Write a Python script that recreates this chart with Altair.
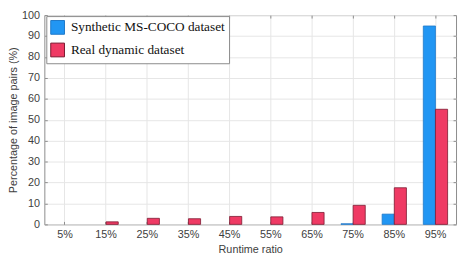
import altair as alt
import pandas as pd

ratios = ["5%", "15%", "25%", "35%", "45%", "55%", "65%", "75%", "85%", "95%"]
synthetic = [0, 0, 0, 0, 0, 0, 0, 0.3, 4.9, 94.8]
real = [0, 1.2, 2.9, 2.7, 3.8, 3.6, 5.7, 9.1, 17.5, 55.0]
series = ["Synthetic MS-COCO dataset", "Real dynamic dataset"]
y_ticks = list(range(0, 101, 10))

rows = []
for r, s, d in zip(ratios, synthetic, real):
    rows.append({"ratio": r, "dataset": series[0], "value": s})
    rows.append({"ratio": r, "dataset": series[1], "value": d})
df = pd.DataFrame(rows)

AX_COL = "#8c8c8c"
LAB_COL = "#404040"
GRID_COL = "#e6e6e6"

xscale = alt.Scale(domain=ratios, paddingInner=0.41, paddingOuter=0.205)
yscale = alt.Scale(domain=[0, 100], nice=False)

legend = alt.Legend(
    title=None, orient="none", legendX=2, legendY=1,
    fillColor="white", strokeColor="#8a8a8a", padding=4, rowPadding=4,
    symbolType="square", symbolSize=196, symbolStrokeWidth=1,
    labelFont="Liberation Serif", labelFontSize=13.5, labelColor="#111111",
    labelOffset=6, labelLimit=400,
)

bars = alt.Chart(df).transform_filter("datum.value > 0").mark_bar(strokeWidth=0.8).encode(
    x=alt.X("ratio:N", sort=ratios, scale=xscale,
            axis=alt.Axis(title="Runtime ratio", labelAngle=0, grid=True, gridColor=GRID_COL,
                          domain=False, tickSize=3, offset=-3, tickColor=AX_COL,
                          labelPadding=4, titlePadding=5)),
    xOffset=alt.XOffset("dataset:N", sort=series,
                        scale=alt.Scale(domain=series, paddingInner=0, paddingOuter=0)),
    y=alt.Y("value:Q", scale=yscale,
            axis=alt.Axis(title="Percentage of image pairs (%)", values=y_ticks, grid=True,
                          gridColor=GRID_COL, domain=False, tickSize=3, offset=-3,
                          tickColor=AX_COL, labelPadding=5, titlePadding=3)),
    color=alt.Color("dataset:N", sort=series,
                    scale=alt.Scale(domain=series, range=["#2196f3", "#ef3a64"]), legend=legend),
    stroke=alt.Stroke("dataset:N", sort=series,
                      scale=alt.Scale(domain=series, range=["#1f78c8", "#7a1a30"]), legend=legend),
)

frame = alt.Chart(df).mark_point(opacity=0).encode(
    x=alt.X("ratio:N", sort=ratios, scale=xscale,
            axis=alt.Axis(orient="top", labels=False, title=None, grid=False, domain=False,
                          tickSize=3, offset=-3, tickColor=AX_COL)),
    y=alt.Y("value:Q", scale=yscale,
            axis=alt.Axis(orient="right", labels=False, title=None, grid=False, domain=False,
                          values=y_ticks, tickSize=3, offset=-3, tickColor=AX_COL)),
)

chart = alt.layer(bars, frame).resolve_axis(x="independent", y="independent").properties(
    width=419, height=213,
    padding={"left": 37, "top": 5, "right": 2, "bottom": 33},
    autosize=alt.AutoSizeParams(type="none"),
).configure_view(stroke=AX_COL, strokeWidth=1).configure_axis(
    labelFont="Liberation Sans", labelFontSize=11, labelColor=LAB_COL,
    titleFont="Liberation Sans", titleFontSize=11, titleColor=LAB_COL, titleFontWeight="normal",
)

chart.save("out.html", embed_options={"renderer": "svg", "actions": False})
